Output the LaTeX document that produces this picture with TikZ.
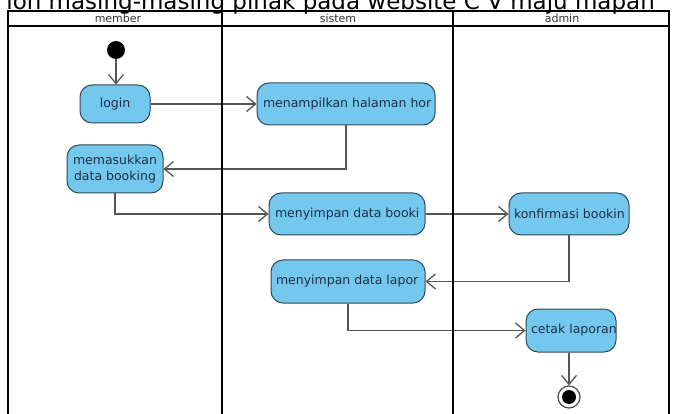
\documentclass[tikz,border=0pt]{standalone}
\usepackage{fontspec}
\setmainfont{DejaVu Sans}
\usetikzlibrary{arrows.meta}
\definecolor{actfill}{HTML}{74C8EE}
\definecolor{actdraw}{HTML}{2E4B57}
\definecolor{acttext}{HTML}{1C2E48}
\definecolor{flow}{HTML}{555555}
\newcommand{\actlbl}[2]{\makebox[#1][l]{#2}}
\begin{document}
\begin{tikzpicture}[x=1pt,y=-1pt,
  act/.style={draw=actdraw, fill=actfill, line width=1pt, rounded corners=12pt,
    text=acttext, font=\fontsize{12.5}{16}\selectfont, inner sep=0pt},
  flowline/.style={draw=flow, line width=1.3pt, -{Straight Barb[length=9pt,width=15pt]}},
  lane/.style={line width=1.5pt, draw=black},
  lanelabel/.style={font=\fontsize{11}{12}\selectfont, text=black!80, inner sep=0pt}]
\useasboundingbox (0,0) rectangle (675,414);
\clip (0,0) rectangle (675,414);
\fill[white] (0,0) rectangle (675,414);

\node[anchor=base east, font=\fontsize{23}{26}\selectfont, inner sep=0pt] (title) at (655,9.5)
  {ion masing-masing pihak pada website C V maju mapan};

% lane labels
\node[lanelabel, anchor=base] (lmember) at (118,23) {member};
\node[lanelabel, anchor=base] (lsistem) at (338,23) {sistem};
\node[lanelabel, anchor=base] (ladmin) at (562,23) {admin};

% activities
\node[circle, fill=black, minimum size=18pt, inner sep=0pt] (init) at (116,50) {};
\node[act, minimum width=70pt, minimum height=38pt] (login) at (115,104) {login};
\node[act, minimum width=178pt, minimum height=42pt] (mhh) at (346,104) {\actlbl{166pt}{menampilkan halaman hor}};
\node[act, minimum width=96pt, minimum height=48pt, align=center] (mem) at (115,169) {memasukkan\\data booking};
\node[act, minimum width=156pt, minimum height=42pt] (mdb) at (347,214) {\actlbl{144pt}{menyimpan data booki}};
\node[act, minimum width=120pt, minimum height=42pt] (konf) at (569,214) {\actlbl{110pt}{konfirmasi bookin}};
\node[act, minimum width=154pt, minimum height=43pt] (mdl) at (348,281.5) {\actlbl{144pt}{menyimpan data lapor}};
\node[act, minimum width=90pt, minimum height=43pt] (cetak) at (571,330.5) {\actlbl{80pt}{cetak laporan}};
\node[circle, draw=black!70, line width=1.2pt, fill=white, minimum size=22pt, inner sep=0pt] (final) at (569,397) {};
\node[circle, fill=black, minimum size=14pt, inner sep=0pt] (finalin) at (569,397) {};

% flows
\draw[flowline] (init) -- (init |- login.north);
\draw[flowline] (login) -- (mhh);
\draw[flowline] (mhh.south) |- (mem.east);
\draw[flowline] (mem.south) |- (mdb.west);
\draw[flowline] (mdb) -- (konf);
\draw[flowline] (konf.south) |- (mdl.east);
\draw[flowline] (mdl.south) |- (cetak.west);
\draw[flowline] (final |- cetak.south) -- (final);

% swimlane frame
\draw[lane] (8,430) -- (8,11) -- (669,11) -- (669,430);
\draw[lane] (8,26) -- (669,26);
\draw[lane] (222,11) -- (222,430);
\draw[lane] (453,11) -- (453,430);
\end{tikzpicture}
\end{document}
